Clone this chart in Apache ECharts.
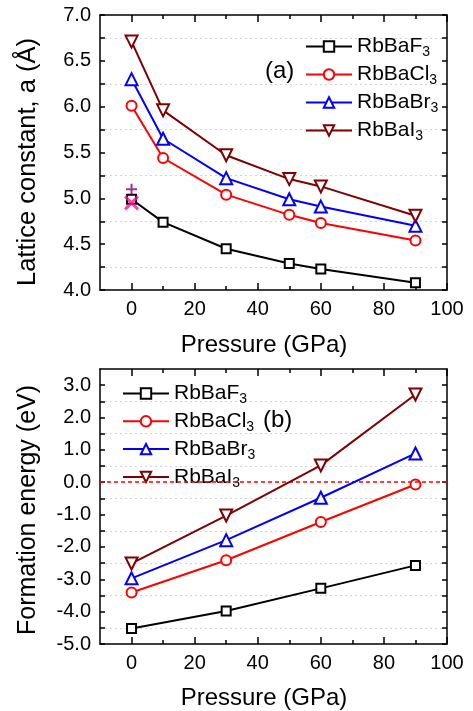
<!DOCTYPE html>
<html>
<head>
<meta charset="utf-8">
<script src="https://cdn.jsdelivr.net/npm/echarts@6/dist/echarts.min.js"></script>
<style>html,body{margin:0;padding:0;background:#fff;}#c{width:473px;height:711px;}</style>
</head>
<body>
<div id="c"></div>
<script>
// ---- data ----
const seriesNames = ['RbBaF3', 'RbBaCl3', 'RbBaBr3', 'RbBaI3'];
const pressureA = [0, 10, 30, 50, 60, 90];
const latticeF = [4.99, 4.74, 4.45, 4.29, 4.23, 4.08];
const latticeCl = [6.01, 5.44, 5.04, 4.82, 4.73, 4.54];
const latticeBr = [6.30, 5.65, 5.22, 4.99, 4.91, 4.70];
const latticeI = [6.71, 5.96, 5.47, 5.21, 5.13, 4.81];
const expPressure = [0];
const expPlus = [5.10];
const expCross = [4.95];
const pressureB = [0, 30, 60, 90];
const energyF = [-4.52, -3.98, -3.28, -2.57];
const energyCl = [-3.41, -2.41, -1.23, -0.07];
const energyBr = [-2.97, -1.79, -0.48, 0.89];
const energyI = [-2.51, -1.03, 0.52, 2.71];
const xTicks = [0, 20, 40, 60, 80, 100];
const xMinorTicks = [10, 30, 50, 70, 90];
const yTicksA = [4.0, 4.5, 5.0, 5.5, 6.0, 6.5, 7.0];
const yGridA = [4.25, 4.75, 5.25, 5.75, 6.25, 6.75];
const yTicksB = [-5, -4, -3, -2, -1, 0, 1, 2, 3];
const yGridB = [-4.5, -3.5, -2.5, -1.5, -0.5, 0.5, 1.5, 2.5];

const FONT = 'Liberation Sans, Arial, sans-serif';
const colors = ['#000000', '#ff0000', '#0000ff', '#800000'];
const symbols = ['rect', 'circle', 'triangle', 'triangle'];
const symbolSizes = [9, 10, 12, 12];
const rotates = [0, 0, 0, 180];

const chart = echarts.init(document.getElementById('c'), null, {renderer: 'canvas'});

function zip(xs, ys) { return xs.map((x, i) => [x, ys[i]]); }

const grids = [
  {left: 100, top: 15, width: 347, height: 275},
  {left: 100, top: 369, width: 347, height: 275}
];

const xAxes = [];
const yAxes = [];
function addX(gi, pos, ticks, len, showLabel, showLine) {
  xAxes.push({
    type: 'value', gridIndex: gi, position: pos, min: -10, max: 100,
    axisLine: {show: showLine, onZero: false, lineStyle: {color: '#000', width: 1.5}},
    axisTick: {show: true, inside: true, length: len, customValues: ticks, lineStyle: {color: '#000', width: 1.5}},
    axisLabel: {show: showLabel, customValues: ticks, margin: 9, fontFamily: FONT, fontSize: 20, color: '#000'},
    splitLine: {show: false}
  });
}
function addY(gi, pos, min, max, ticks, len, showLabel, showLine, grid) {
  yAxes.push({
    type: 'value', gridIndex: gi, position: pos, min: min, max: max,
    axisLine: {show: showLine, onZero: false, lineStyle: {color: '#000', width: 1.5}},
    axisTick: {show: true, inside: true, length: len, customValues: ticks, lineStyle: {color: '#000', width: 1.5}},
    axisLabel: {show: showLabel, customValues: ticks, margin: 9, fontFamily: FONT, fontSize: 20, color: '#000',
      formatter: v => v.toFixed(1)},
    splitLine: {show: grid, lineStyle: {color: '#d4d4d4', type: [2, 3], width: 1}}
  });
}
for (let g = 0; g < 2; g++) {
  addX(g, 'bottom', xTicks, 7, true, true);
  addX(g, 'bottom', xMinorTicks, 4, false, false);
  addX(g, 'top', xTicks, 7, false, true);
  addX(g, 'top', xMinorTicks, 4, false, false);
}
// top grid y axes: indices 0-3
addY(0, 'left', 4, 7, yTicksA, 5, true, true, false);
addY(0, 'left', 4, 7, yGridA, 5, false, false, true);
addY(0, 'right', 4, 7, yTicksA, 5, false, true, false);
addY(0, 'right', 4, 7, yGridA, 5, false, false, false);
// bottom grid y axes: indices 4-7
addY(1, 'left', -5, 3.5, yTicksB, 5, true, true, false);
addY(1, 'left', -5, 3.5, yGridB, 5, false, false, true);
addY(1, 'right', -5, 3.5, yTicksB, 5, false, true, false);
addY(1, 'right', -5, 3.5, yGridB, 5, false, false, false);

const topData = [latticeF, latticeCl, latticeBr, latticeI];
const botData = [energyF, energyCl, energyBr, energyI];
const series = [];
function lineSeries(name, i, xi, yi, data) {
  return {
    type: 'line', name: name, xAxisIndex: xi, yAxisIndex: yi, data: data,
    symbol: symbols[i], symbolSize: symbolSizes[i], symbolRotate: rotates[i], showAllSymbol: true,
    lineStyle: {color: colors[i], width: 2},
    itemStyle: {color: '#ffffff', borderColor: colors[i], borderWidth: 2},
    emphasis: {disabled: true}, animation: false, z: 3 + i
  };
}
seriesNames.forEach((n, i) => series.push(lineSeries(n, i, 0, 0, zip(pressureA, topData[i]))));
series.push({
  type: 'scatter', name: 'expPlus', xAxisIndex: 0, yAxisIndex: 0, data: zip(expPressure, expPlus),
  symbol: 'path://M5,0L5,10M0,5L10,5', symbolSize: 11,
  itemStyle: {color: 'rgba(0,0,0,0)', borderColor: '#800080', borderWidth: 2},
  emphasis: {disabled: true}, animation: false, z: 10
});
series.push({
  type: 'scatter', name: 'expCross', xAxisIndex: 0, yAxisIndex: 0, data: zip(expPressure, expCross),
  symbol: 'path://M0,0L10,10M10,0L0,10', symbolSize: 13,
  itemStyle: {color: 'rgba(0,0,0,0)', borderColor: '#ff1493', borderWidth: 3},
  emphasis: {disabled: true}, animation: false, z: 11
});
seriesNames.forEach((n, i) => {
  const s = lineSeries(n, i, 4, 4, zip(pressureB, botData[i]));
  if (i === 0) {
    s.markLine = {
      silent: true, symbol: 'none', label: {show: false},
      lineStyle: {color: '#ff0000', type: [4, 3], width: 1.5},
      data: [{yAxis: 0}], animation: false
    };
  }
  series.push(s);
});

const legendText = {
  fontFamily: FONT, color: '#000',
  rich: {
    n: {fontFamily: FONT, fontSize: 21, lineHeight: 20, color: '#000'},
    s: {fontFamily: FONT, fontSize: 14, lineHeight: 14, verticalAlign: 'bottom', color: '#000', padding: [0, 0, -3, 0]}
  }
};
const legendFmt = name => '{n|' + name.slice(0, -1) + '}{s|' + name.slice(-1) + '}';

chart.setOption({
  animation: false,
  backgroundColor: '#ffffff',
  grid: grids,
  xAxis: xAxes,
  yAxis: yAxes,
  legend: [
    {data: seriesNames, orient: 'vertical', left: 305, top: 36, padding: 0, itemWidth: 46, itemHeight: 13, itemGap: 4.5,
     formatter: legendFmt, textStyle: legendText, selectedMode: false},
    {data: seriesNames, orient: 'vertical', left: 122, top: 383, padding: 0, itemWidth: 46, itemHeight: 13, itemGap: 4.3,
     formatter: legendFmt, textStyle: legendText, selectedMode: false}
  ],
  graphic: [
    {type: 'text', x: 265, y: 71, style: {text: '(a)', fontFamily: FONT, fontSize: 24, fill: '#000', textVerticalAlign: 'middle'}},
    {type: 'text', x: 263, y: 420, style: {text: '(b)', fontFamily: FONT, fontSize: 24, fill: '#000', textVerticalAlign: 'middle'}},
    {type: 'text', x: 264, y: 345, style: {text: 'Pressure (GPa)', fontFamily: FONT, fontSize: 24, fill: '#000', textAlign: 'center', textVerticalAlign: 'middle'}},
    {type: 'text', x: 264, y: 698, style: {text: 'Pressure (GPa)', fontFamily: FONT, fontSize: 24, fill: '#000', textAlign: 'center', textVerticalAlign: 'middle'}},
    {type: 'text', x: 28, y: 162, rotation: Math.PI / 2, style: {text: 'Lattice constant, a (Å)', fontFamily: FONT, fontSize: 25.5, fill: '#000', textAlign: 'center', textVerticalAlign: 'middle'}},
    {type: 'text', x: 28, y: 510, rotation: Math.PI / 2, style: {text: 'Formation energy (eV)', fontFamily: FONT, fontSize: 25, fill: '#000', textAlign: 'center', textVerticalAlign: 'middle'}}
  ],
  series: series
});
</script>
</body>
</html>
